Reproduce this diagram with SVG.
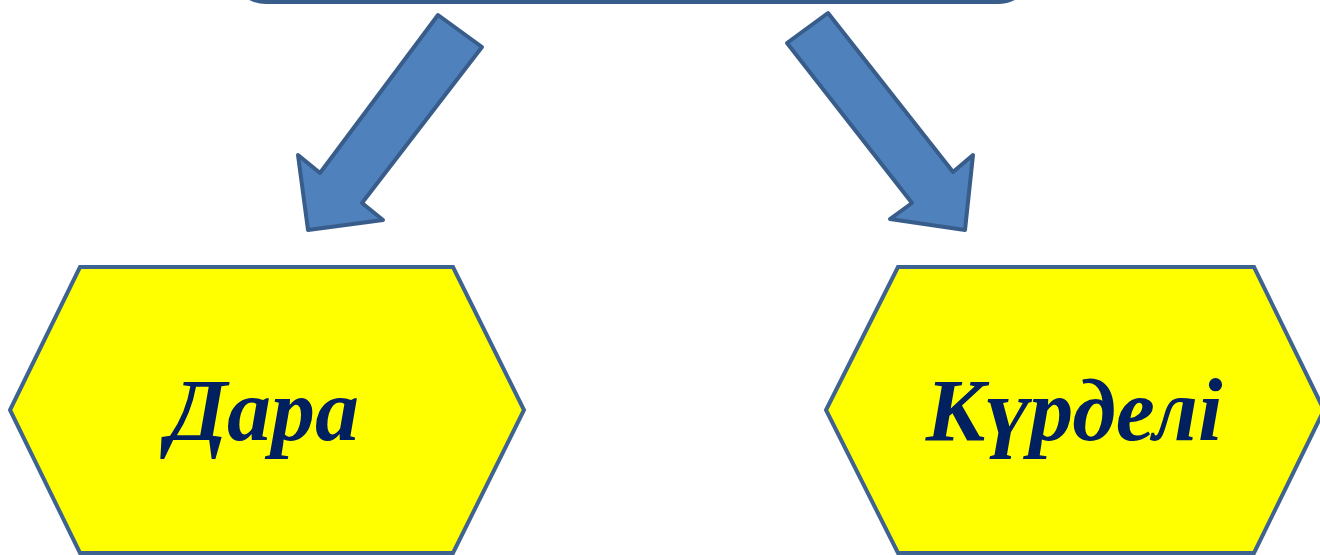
<svg xmlns="http://www.w3.org/2000/svg" width="1320" height="555" viewBox="0 0 1320 555">
<style>
.arrow{fill:#4f81bd;stroke:#385d8a;stroke-width:4;stroke-linejoin:round}
.hex{fill:#ffff00;stroke:#3f6391;stroke-width:4;stroke-linejoin:miter}
.lbl{font-family:"Liberation Serif","Times New Roman",serif;font-weight:bold;font-style:italic;font-size:88px;fill:#002060;text-anchor:middle}
.top{fill:#4f81bd;stroke:#385d8a;stroke-width:4}
</style>
<g id="top-node"><rect class="top" x="232" y="-80" width="800" height="82" rx="34"/></g>
<g id="connectors">
<polygon class="arrow" points="438,15 482,47 362,203 383,220 308,230 298,155 320,173"/>
<polygon class="arrow" points="787,43 828,13 953,172 973,155 965,230 890,219 912,203"/>
</g>
<g id="node-dara">
<polygon class="hex" points="80,267 453,267 524,410 453,553 80,553 10,410"/>
<text class="lbl" x="263" y="440">Дара</text>
</g>
<g id="node-kurdeli">
<polygon class="hex" points="898,267 1254,267 1324,410 1254,553 898,553 826,410"/>
<text class="lbl" x="1074" y="440">Күрделі</text>
</g>
</svg>
